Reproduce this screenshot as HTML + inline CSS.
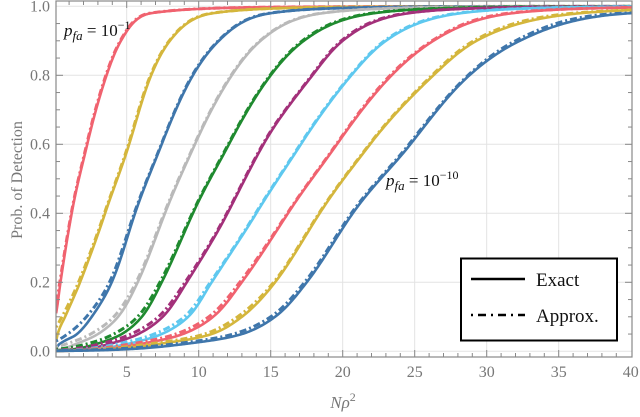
<!DOCTYPE html>
<html><head><meta charset="utf-8"><style>
html,body{margin:0;padding:0;background:#fff;}
svg{display:block;font-family:"Liberation Serif",serif;}
</style></head><body>
<svg id="chart" width="640" height="417" viewBox="0 0 640 417" xmlns="http://www.w3.org/2000/svg">
<defs><clipPath id="plotclip"><rect x="56" y="1" width="576" height="356"/></clipPath></defs>
<g id="grid"></g>
<g id="series" clip-path="url(#plotclip)"></g>
<rect x="56" y="1" width="576" height="356" fill="none" stroke="#888" stroke-width="1.2"/>
<g id="ticks"></g>
<text x="22" y="180" transform="rotate(-90 22 180)" text-anchor="middle" font-size="16" fill="#777">Prob. of Detection</text>
<text x="343" y="408" text-anchor="middle" font-size="17" fill="#777" font-style="italic">Nρ<tspan font-style="normal" dy="-7" font-size="12">2</tspan></text>
<text x="64" y="36" font-size="17" fill="#111"><tspan font-style="italic">p</tspan><tspan font-style="italic" font-size="13" dy="4">fa</tspan><tspan dy="-4"> = 10</tspan><tspan dy="-7" font-size="12">−1</tspan></text>
<text x="386" y="186" font-size="17" fill="#111"><tspan font-style="italic">p</tspan><tspan font-style="italic" font-size="13" dy="4">fa</tspan><tspan dy="-4"> = 10</tspan><tspan dy="-7" font-size="12">−10</tspan></text>
<g>
<rect x="461" y="258.5" width="156" height="82" fill="#fff" stroke="#000" stroke-width="2"/>
<line x1="471" y1="279" x2="525" y2="279" stroke="#000" stroke-width="2.6"/>
<text x="536" y="286" font-size="19" fill="#111">Exact</text>
<line x1="471" y1="315" x2="525" y2="315" stroke="#000" stroke-width="2.6" stroke-dasharray="2 5 8 5"/>
<text x="536" y="322" font-size="19" fill="#111">Approx.</text>
</g>
</svg>
<script>
const levels = [0.02, 0.05, 0.1, 0.2, 0.4, 0.6, 0.8, 0.9, 0.98];
const colors = ["#f0626f","#d4b63c","#3f76ab","#b9b9b9","#1f8a2f","#a3307a","#5ec8ef","#f0626f","#d4b63c","#3f76ab"];
const startVals = [0.11, 0.03, 0.01, 0.004, 0.002, 0.001, 0.001, 0.001, 0.001, 0.001];
const endVals = [0.9999, 0.9999, 0.9999, 0.9998, 0.9997, 0.9995, 0.999, 0.997, 0.99, 0.981];
const exactX = [
 [null,null,null,0.4,1.18,2.26,3.6,4.6,6.7],
 [null,0.2,0.72,1.76,3.5,5.17,6.7,8.0,11],
 [0.3,1.55,2.57,3.96,5.58,7.43,9.6,11.4,15],
 [1.4,3.0,4.4,5.76,7.66,9.74,12.3,14.3,18.6],
 [2.8,4.65,6.05,7.43,9.6,12.1,15.0,17.3,22.2],
 [3.7,5.8,7.5,9.17,12.0,14.5,17.9,20.0,24.6],
 [4.9,7.43,9.27,10.9,14.0,17.1,20.6,23.0,28.2],
 [5.8,8.9,11.0,12.99,16.2,19.6,23.4,26.3,31.8],
 [7,10.9,13.0,15.3,18.4,21.9,26.3,29.3,36.5],
 [8.8,13.0,15.3,17.5,20.7,24.7,28.8,32.3,40]
];
const approxStart = [0.13, 0.07, 0.03, 0.012, 0.006, 0.003, 0.002, 0.002, 0.002, 0.002];
const approxX = [
 [null,null,null,0.35,1.15,2.22,3.55,4.55,6.6],
 [null,null,0.5,1.65,3.45,5.12,6.65,7.95,10.9],
 [null,0.9,2.2,3.8,5.52,7.4,9.55,11.35,14.9],
 [0.7,2.5,4.1,5.65,7.6,9.7,12.25,14.25,18.5],
 [2.1,4.1,5.75,7.3,9.55,12.05,14.95,17.2,22.0],
 [3.0,5.3,7.2,9.05,11.95,14.45,17.85,19.9,24.4],
 [4.2,6.9,9.0,10.8,13.95,17.05,20.55,22.9,28.0],
 [5.1,8.4,10.7,12.85,16.15,19.55,23.3,26.2,31.5],
 [6.3,10.4,12.7,15.2,18.35,21.85,26.2,29.1,36.0],
 [8.0,12.4,15.0,17.35,20.6,24.6,28.7,32.0,39.5]
];
const xTicks = [5,10,15,20,25,30,35,40];
const yTicks = [0,0.2,0.4,0.6,0.8,1.0];

const X0 = 54.7, XS = 14.4, Y0 = 351.3, YS = 345;
function sx(v){ return X0 + v*XS; }
function sy(v){ return Y0 - v*YS; }
const NS = "http://www.w3.org/2000/svg";
function mk(tag, attrs, parent){ const e=document.createElementNS(NS,tag); for(const k in attrs) e.setAttribute(k,attrs[k]); parent.appendChild(e); return e; }
function logit(p){ return Math.log(p/(1-p)); }
function inv(l){ return 1/(1+Math.exp(-l)); }

function makeInterp(pts){
  const n=pts.length; const dx=[],m=[];
  for(let i=0;i<n-1;i++){dx.push(pts[i+1][0]-pts[i][0]);m.push((pts[i+1][1]-pts[i][1])/dx[i]);}
  const t=[m[0]];
  for(let i=1;i<n-1;i++){ t.push(m[i-1]*m[i]<=0?0:(dx[i-1]+dx[i])*3/((2*dx[i]+dx[i-1])/m[i-1]+(dx[i]+2*dx[i-1])/m[i])); }
  t.push(m[n-2]);
  return function(x){
    let i=0; while(i<n-2 && x>pts[i+1][0]) i++;
    const h=dx[i], s=(x-pts[i][0])/h, s2=s*s, s3=s2*s;
    return (2*s3-3*s2+1)*pts[i][1]+(s3-2*s2+s)*h*t[i]+(-2*s3+3*s2)*pts[i+1][1]+(s3-s2)*h*t[i+1];
  };
}
function curvePath(xs, start, endV){
  const pts=[[0.1,logit(start)]];
  for(let i=0;i<levels.length;i++){ if(xs[i]!==null && levels[i]>start && xs[i]>0.1 && xs[i]<40.5) pts.push([xs[i],logit(levels[i])]); }
  pts.push([40.5,logit(endV)]);
  const f=makeInterp(pts);
  let d="";
  for(let x=0.1;x<=40.5;x+=0.1){
    const p=inv(f(x));
    d+=(d?" L":"M")+sx(x).toFixed(2)+","+sy(p).toFixed(2);
  }
  return d;
}

const grid=document.getElementById('grid');
xTicks.forEach(v=>{ if(v<40){ const l=mk('line',{x1:sx(v),x2:sx(v),y1:1,y2:357,stroke:'#e3e3e3','stroke-width':1},grid);

 }});
yTicks.forEach(v=>{ const l=mk('line',{x1:56,x2:632,y1:sy(v),y2:sy(v),stroke:'#e3e3e3','stroke-width':1},grid);

 });

const ser=document.getElementById('series');
for(let s=0;s<exactX.length;s++){
  const a=mk('path',{d:curvePath(approxX[s],approxStart[s],endVals[s]),fill:'none',stroke:colors[s],'stroke-width':3,'stroke-dasharray':'2 3 7 3'},ser);
  
  
  const p=mk('path',{d:curvePath(exactX[s],startVals[s],endVals[s]),fill:'none',stroke:colors[s],'stroke-width':2.6},ser);
  
  
}

const tk=document.getElementById('ticks');
for(let v=1;v<40;v++){
  const len=(v%5===0)?7:4;
  mk('line',{x1:sx(v),x2:sx(v),y1:357,y2:357-len,stroke:'#888','stroke-width':1},tk);
  mk('line',{x1:sx(v),x2:sx(v),y1:1,y2:1+len,stroke:'#888','stroke-width':1},tk);
}
for(let i=1;i<20;i++){
  const v=i*0.05, len=(i%4===0)?7:4;
  mk('line',{x1:56,x2:56+len,y1:sy(v),y2:sy(v),stroke:'#888','stroke-width':1},tk);
  mk('line',{x1:632,x2:632-len,y1:sy(v),y2:sy(v),stroke:'#888','stroke-width':1},tk);
}
xTicks.forEach(v=>{
  const t=mk('text',{x:sx(v),y:377,'text-anchor':'middle','font-size':16,fill:'#777'},tk);
  t.textContent=String(v);
  
  
});
yTicks.forEach(v=>{
  const t=mk('text',{x:50,y:sy(v)+5,'text-anchor':'end','font-size':16,fill:'#777'},tk);
  t.textContent=v.toFixed(1);
  
  
});
</script>
</body></html>
